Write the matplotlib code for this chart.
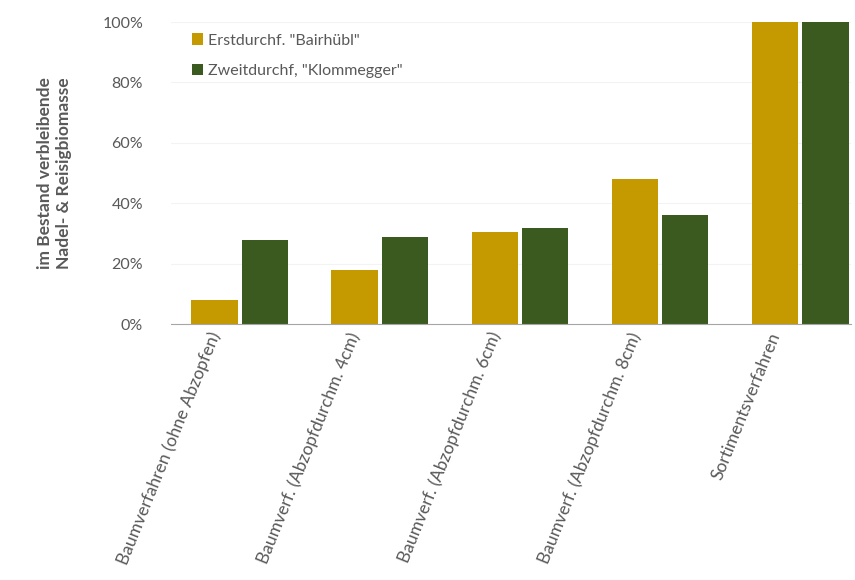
import matplotlib.pyplot as plt
import matplotlib.ticker as mticker
import matplotlib.transforms as mtransforms
import numpy as np

plt.rcParams['font.family'] = ['Lato', 'DejaVu Sans']

# Daten
kategorien = [
    "Baumverfahren (ohne Abzopfen)",
    "Baumverf. (Abzopfdurchm. 4cm)",
    "Baumverf. (Abzopfdurchm. 6cm)",
    "Baumverf. (Abzopfdurchm. 8cm)",
    "Sortimentsverfahren",
]
erstdurchf = [8, 18, 30.5, 48, 100]
zweitdurchf = [28, 29, 32, 36, 100]
serien = ['Erstdurchf. "Bairhübl"', 'Zweitdurchf, "Klommegger"']

gold = "#C49A00"
gruen = "#3B5A1F"
grau = "#595959"

fig = plt.figure(figsize=(8.55, 5.8), dpi=100)
ax = fig.add_axes([0.2, 0.441, 0.795, 0.521])

x = np.arange(len(kategorien))
w = 0.33
ax.bar(x - w / 2 - 0.015, erstdurchf, w, color=gold, label=serien[0])
ax.bar(x + w / 2 + 0.015, zweitdurchf, w, color=gruen, label=serien[1])

ax.set_ylim(0, 100)
ax.set_xlim(-0.49, 4.36)
ax.yaxis.set_major_locator(mticker.MultipleLocator(20))
ax.yaxis.set_major_formatter(mticker.PercentFormatter(decimals=0))
ax.grid(axis="y", color="#f3f3f3", linewidth=0.8)
ax.set_axisbelow(True)
for s in ["top", "right", "left"]:
    ax.spines[s].set_visible(False)
ax.spines["bottom"].set_color("#a6a6a6")
ax.tick_params(axis="y", length=0, colors=grau, labelsize=11.5, pad=20)
ax.tick_params(axis="x", length=0, colors=grau, labelsize=12.5, pad=4)
ax.set_xticks(x)
ax.set_xticklabels(kategorien, rotation=68, ha="right", rotation_mode="anchor")
# Beschriftungen etwas nach links versetzt, wie im Original
verschiebung = mtransforms.ScaledTranslation(-32 / 100, 0, fig.dpi_scale_trans)
for lbl in ax.get_xticklabels():
    lbl.set_transform(lbl.get_transform() + verschiebung)

ax.set_ylabel("im Bestand verbleibende\nNadel- & Reisigbiomasse",
              fontsize=12.5, fontweight="bold", color=grau, labelpad=22)

ax.legend(loc="upper left", bbox_to_anchor=(0.01, 1.01), frameon=False,
          fontsize=11.5, labelcolor=grau, handlelength=0.7, handleheight=0.7,
          handletextpad=0.3, labelspacing=1.0)

fig.savefig("out.png", dpi=100)
